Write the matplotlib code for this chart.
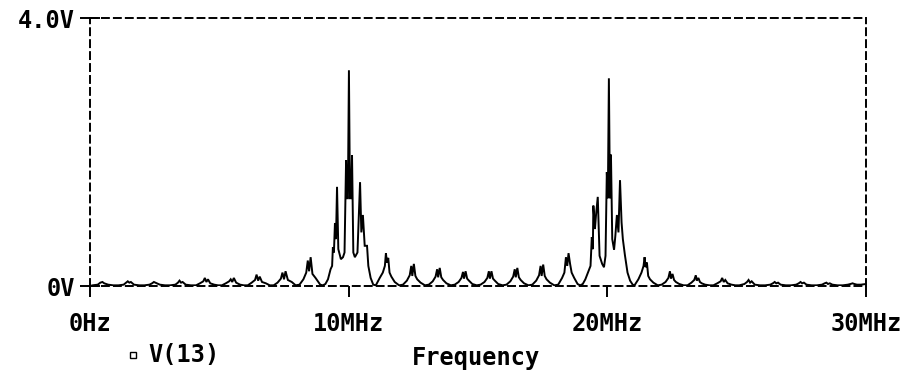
import matplotlib
matplotlib.use("Agg")
import matplotlib.pyplot as plt
from matplotlib.lines import Line2D

plt.rcParams['lines.scale_dashes'] = False

# ---- data ----
x_ticks_mhz = [0, 10, 20, 30]
x_tick_labels = ["0Hz", "10MHz", "20MHz", "30MHz"]
y_ticks_v = [0, 4]
y_tick_labels = ["0V", "4.0V"]
trace_name = "V(13)"
x_label = "Frequency"

freq_mhz = [
    0.00, 0.10, 0.30, 0.40, 0.48, 0.55, 0.70, 0.90,
    1.10, 1.30, 1.40, 1.46, 1.52, 1.58, 1.70, 1.90,
    2.10, 2.30, 2.40, 2.47, 2.53, 2.60, 2.70, 2.90,
    3.10, 3.30, 3.40, 3.46, 3.52, 3.58, 3.70, 3.90,
    4.10, 4.25, 4.38, 4.44, 4.50, 4.56, 4.65, 4.80, 4.95,
    5.10, 5.25, 5.38, 5.44, 5.50, 5.56, 5.65, 5.80, 5.95,
    6.10, 6.25, 6.38, 6.44, 6.50, 6.56, 6.65, 6.80, 6.95,
    7.10, 7.25, 7.38, 7.44, 7.50, 7.56, 7.65, 7.80, 7.95,
    8.10, 8.25, 8.36, 8.42, 8.47, 8.53, 8.60, 8.72, 8.90,
    9.00, 9.10, 9.20, 9.30, 9.36, 9.39, 9.43, 9.47, 9.51, 9.55, 9.60, 9.70,
    9.78, 9.84, 9.90, 9.94, 9.97, 10.01, 10.05, 10.09, 10.13, 10.18, 10.24,
    10.34, 10.44, 10.49, 10.55, 10.62, 10.71, 10.76, 10.85, 10.95,
    11.05, 11.20, 11.32, 11.40, 11.44, 11.48, 11.53, 11.58, 11.65, 11.78, 11.95,
    12.10, 12.25, 12.36, 12.42, 12.46, 12.52, 12.58, 12.65, 12.78, 12.95,
    13.10, 13.25, 13.36, 13.42, 13.46, 13.52, 13.58, 13.65, 13.78, 13.95,
    14.10, 14.25, 14.36, 14.42, 14.46, 14.52, 14.58, 14.65, 14.78, 14.95,
    15.10, 15.25, 15.36, 15.42, 15.46, 15.52, 15.58, 15.65, 15.78, 15.95,
    16.10, 16.25, 16.36, 16.42, 16.46, 16.52, 16.58, 16.65, 16.78, 16.95,
    17.10, 17.25, 17.36, 17.42, 17.46, 17.52, 17.58, 17.65, 17.78, 17.95,
    18.10, 18.25, 18.34, 18.40, 18.45, 18.50, 18.56, 18.62, 18.72, 18.85,
    18.95, 19.05, 19.15, 19.25, 19.35, 19.40, 19.44, 19.46, 19.52, 19.56, 19.63,
    19.70, 19.80, 19.87, 19.93, 19.98, 20.02, 20.06, 20.10, 20.14, 20.19, 20.26,
    20.31, 20.37, 20.43, 20.49, 20.55, 20.60, 20.68, 20.78, 20.88, 20.98,
    21.05, 21.20, 21.32, 21.40, 21.44, 21.48, 21.53, 21.58, 21.65, 21.78, 21.95,
    22.10, 22.25, 22.36, 22.42, 22.46, 22.52, 22.58, 22.65, 22.78, 22.95,
    23.10, 23.25, 23.36, 23.42, 23.46, 23.52, 23.58, 23.65, 23.78, 23.95,
    24.10, 24.25, 24.38, 24.44, 24.50, 24.56, 24.65, 24.80, 24.95,
    25.10, 25.30, 25.40, 25.46, 25.52, 25.58, 25.70, 25.90,
    26.10, 26.30, 26.40, 26.47, 26.53, 26.60, 26.70, 26.90,
    27.10, 27.30, 27.40, 27.47, 27.53, 27.60, 27.70, 27.90,
    28.10, 28.30, 28.40, 28.47, 28.53, 28.60, 28.70, 28.90,
    29.10, 29.30, 29.40, 29.48, 29.55, 29.65, 29.80, 30.00,
]
volts = [
    0.00, 0.01, 0.02, 0.05, 0.06, 0.04, 0.02, 0.01,
    0.01, 0.02, 0.05, 0.07, 0.05, 0.06, 0.02, 0.01,
    0.01, 0.02, 0.04, 0.06, 0.05, 0.04, 0.02, 0.01,
    0.01, 0.02, 0.05, 0.08, 0.05, 0.06, 0.02, 0.01,
    0.01, 0.04, 0.07, 0.12, 0.06, 0.10, 0.04, 0.02, 0.01,
    0.01, 0.04, 0.07, 0.10, 0.06, 0.12, 0.05, 0.02, 0.01,
    0.01, 0.05, 0.09, 0.17, 0.08, 0.14, 0.06, 0.04, 0.01,
    0.01, 0.05, 0.11, 0.20, 0.10, 0.22, 0.09, 0.06, 0.01,
    0.02, 0.10, 0.20, 0.38, 0.22, 0.43, 0.18, 0.12, 0.02,
    0.01, 0.03, 0.10, 0.25, 0.30, 0.58, 0.50, 0.94, 0.70, 1.48, 0.55, 0.40,
    0.43, 0.50, 1.88, 1.31, 1.31, 3.22, 1.31, 1.31, 1.95, 0.50, 0.43,
    0.50, 1.55, 0.80, 1.06, 0.60, 0.60, 0.30, 0.12, 0.02,
    0.01, 0.12, 0.20, 0.30, 0.49, 0.35, 0.42, 0.20, 0.14, 0.06, 0.01,
    0.02, 0.08, 0.16, 0.30, 0.15, 0.33, 0.15, 0.10, 0.05, 0.01,
    0.02, 0.07, 0.14, 0.25, 0.13, 0.27, 0.13, 0.09, 0.04, 0.01,
    0.02, 0.06, 0.12, 0.21, 0.11, 0.22, 0.11, 0.08, 0.03, 0.01,
    0.02, 0.06, 0.12, 0.22, 0.11, 0.22, 0.11, 0.08, 0.03, 0.01,
    0.02, 0.07, 0.14, 0.25, 0.13, 0.27, 0.13, 0.09, 0.04, 0.01,
    0.02, 0.08, 0.16, 0.30, 0.15, 0.32, 0.15, 0.10, 0.05, 0.01,
    0.02, 0.12, 0.20, 0.43, 0.30, 0.49, 0.33, 0.20, 0.12, 0.03,
    0.01, 0.03, 0.10, 0.20, 0.30, 0.73, 0.55, 1.20, 0.85, 1.05, 1.33,
    0.45, 0.33, 0.28, 0.45, 1.70, 1.31, 3.10, 1.31, 1.96, 0.70, 0.54,
    0.75, 1.06, 0.80, 1.58, 0.95, 0.70, 0.46, 0.20, 0.08, 0.02,
    0.01, 0.10, 0.20, 0.30, 0.43, 0.28, 0.35, 0.15, 0.10, 0.05, 0.01,
    0.02, 0.06, 0.12, 0.22, 0.11, 0.18, 0.09, 0.06, 0.03, 0.01,
    0.01, 0.05, 0.09, 0.16, 0.08, 0.12, 0.06, 0.04, 0.02, 0.01,
    0.01, 0.04, 0.07, 0.12, 0.06, 0.09, 0.04, 0.02, 0.01,
    0.01, 0.03, 0.06, 0.09, 0.05, 0.07, 0.02, 0.01,
    0.01, 0.02, 0.04, 0.06, 0.04, 0.05, 0.02, 0.01,
    0.01, 0.02, 0.04, 0.06, 0.04, 0.05, 0.02, 0.01,
    0.01, 0.02, 0.04, 0.05, 0.03, 0.04, 0.02, 0.01,
    0.01, 0.02, 0.03, 0.04, 0.03, 0.02, 0.02, 0.03,
]

# ---- figure ----
W, H = 913, 372
fig = plt.figure(figsize=(W / 100, H / 100), dpi=100)
left, right, top, bottom = 90, 866, 18, 286
ax = fig.add_axes([left / W, 1 - bottom / H, (right - left) / W, (bottom - top) / H])

ax.plot(freq_mhz, volts, color="black", lw=1.4, solid_joinstyle="miter")
ax.set_xlim(0, 30)
ax.set_ylim(0, 4)

dash = (0, (5.0, 3.6))
for s in ax.spines.values():
    s.set_linestyle(dash)
    s.set_linewidth(1.4)
    s.set_color("black")

font = dict(family="DejaVu Sans Mono", weight="bold", size=17)
ax.set_xticks(x_ticks_mhz)
ax.set_xticklabels(x_tick_labels, fontdict=font)
ax.set_yticks(y_ticks_v)
ax.set_yticklabels(y_tick_labels, fontdict=font)
ax.tick_params(axis="x", direction="out", length=8, width=1.4, pad=11)
ax.tick_params(axis="y", direction="inout", length=14, width=1.4, pad=4)

# legend entry and axis title
fig.add_artist(Line2D([133 / W], [1 - 355 / H], marker="s", markersize=5,
                      markerfacecolor="white", markeredgecolor="black",
                      markeredgewidth=1.0, linestyle="none"))
fig.text(148 / W, 1 - 355 / H, trace_name, ha="left", va="center", **font)
fig.text(476 / W, 1 - 358 / H, x_label, ha="center", va="center", **font)

fig.savefig("out.png", dpi=100)
